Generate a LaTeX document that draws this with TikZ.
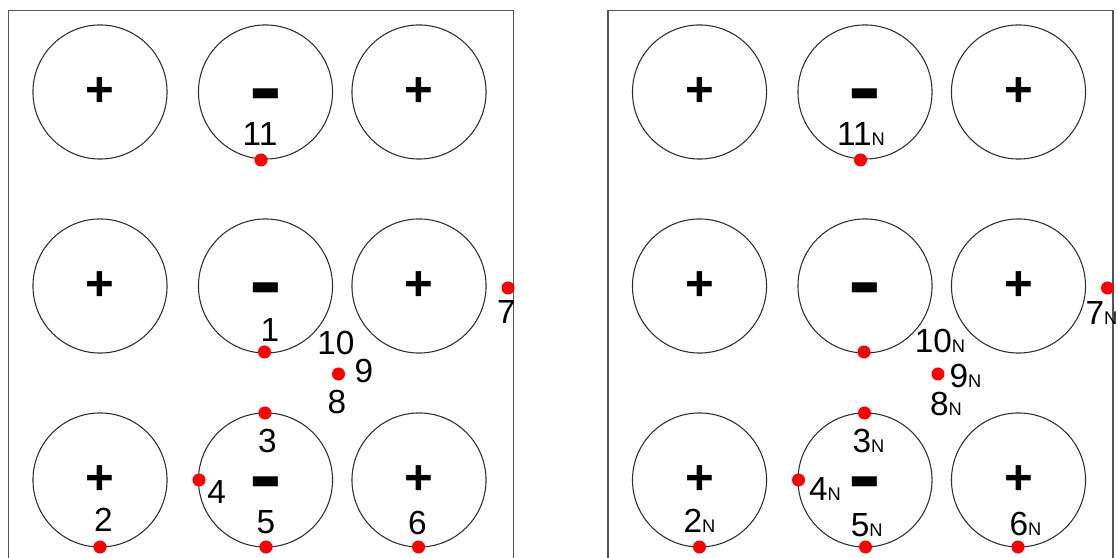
\documentclass[tikz,border=0pt]{standalone}
\usepackage{fontspec}
\setmainfont{Liberation Sans}
\usepackage{graphicx}
\usetikzlibrary{positioning}

\definecolor{framegray}{RGB}{85,85,85}
\definecolor{ringgray}{RGB}{45,45,45}
\newcommand{\Nsub}{{\fontsize{5.2}{6}\selectfont N}}
\newcommand{\signp}{+}
\newcommand{\signm}{\raisebox{-0.235cm}[0pt][0pt]{\scalebox{2.0}[1.7]{-}}}

\begin{document}
\begin{tikzpicture}[x=0.01cm, y=-0.01cm,
    frame/.style={draw=framegray, line width=0.45pt},
    cell/.style={draw=ringgray, line width=0.3pt, circle, minimum size=1.34cm, inner sep=0pt,
                 font=\fontsize{14}{14}\selectfont\bfseries},
    num/.style={font=\fontsize{9.5}{10}\selectfont, inner sep=0pt},
    pt/.style={circle, fill=red, inner sep=0pt, minimum size=0.13cm}]
    \useasboundingbox (0,0) rectangle (1118,558);
    \foreach \p/\xo in {L/8.5, R/608} {
        \draw[frame] (\xo,558) -- (\xo,10.5) -- (\xo+505,10.5) -- (\xo+505,558);
        \foreach \r/\yy in {1/92, 2/286, 3/480}
            \foreach \c/\dx/\s in {1/91.5/\signp, 2/257/\signm, 3/410.5/\signp}
                \node[cell] (\p-\r\c) at (\xo+\dx,\yy) {\s};
        \foreach \d/\dx/\dy in {11/252.5/160, 1/256/352, 9/330/374, 7/499.5/288, 3/256.5/413,
                                4/190.5/480, 5/257.5/547, 2/91.5/547, 6/410/547}
            \node[pt] (\p-d\d) at (\xo+\dx,\dy) {};
    }
    % left panel labels
    \foreach \t/\x/\y in {11/260/134.5, 1/270/330, 10/336/343.5, 9/364/371, 8/337/402,
                          7/506.5/312.5, 3/267.5/441.5, 4/216.7/492, 5/266/522, 2/103.5/519.7, 6/417.5/523}
        \node[num] (L-t\t) at (\x,\y) {\t};
    % right panel labels
    \foreach \t/\x/\y in {11/861/134.5, 10/940/341.5, 9/965.5/376, 8/946/404, 7/1101.5/313.5,
                          3/868.5/441, 4/825/489.5, 5/866.7/525.5, 2/699.5/520.8, 6/1025.5/523.5}
        \node[num] (R-t\t) at (\x,\y) {\t\Nsub};
\end{tikzpicture}
\end{document}
